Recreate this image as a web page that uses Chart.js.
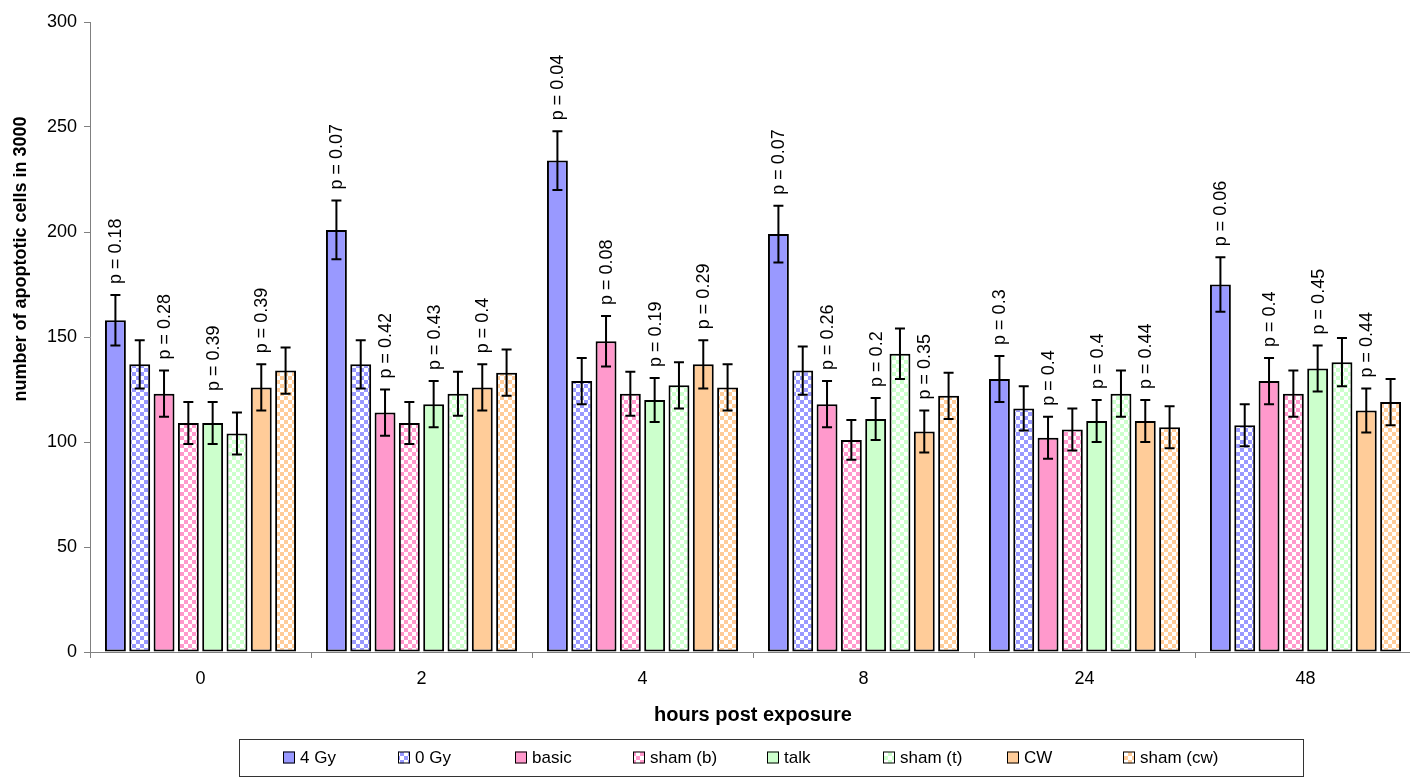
<!DOCTYPE html>
<html>
<head>
<meta charset="utf-8">
<title>Apoptotic cells after exposure</title>
<script src="https://cdn.jsdelivr.net/npm/chart.js@4.4.1/dist/chart.umd.min.js"></script>
<style>
  html, body { margin: 0; padding: 0; overflow: hidden; background: #fff; }
  canvas { display: block; }
</style>
</head>
<body>
<canvas id="chart" width="1420" height="780"></canvas>
<script>
// ---- data ----
const categories = ['0', '2', '4', '8', '24', '48'];

const gy4      = [158, 201, 234, 199, 130, 175];
const gy4Err   = [12, 14, 14, 13.5, 11, 13];
const gy0      = [137, 137, 129, 134, 116, 108];
const gy0Err   = [11.5, 11.5, 11, 11.5, 10.5, 10];
const basic    = [123, 114, 148, 118, 102, 129];
const basicErr = [11, 11, 12, 11, 10, 11];
const shamB    = [109, 109, 123, 101, 106, 123];
const shamBErr = [10, 10, 10.5, 9.5, 10, 11];
const talk     = [109, 118, 120, 111, 110, 135];
const talkErr  = [10, 11, 10.5, 10, 10, 11];
const shamT    = [104, 123, 127, 142, 123, 138];
const shamTErr = [10, 10.5, 11, 12, 11, 11.5];
const cw       = [126, 126, 137, 105, 110, 115];
const cwErr    = [11, 11, 11.5, 10, 10, 10.5];
const shamCW   = [134, 133, 126, 122, 107, 119];
const shamCWErr= [11, 11, 11, 11, 10, 11];

// p-values printed above the exposed groups
const p4Gy   = ['0.18', '0.07', '0.04', '0.07', '0.3', '0.06'];
const pBasic = ['0.28', '0.42', '0.08', '0.26', '0.4', '0.4'];
const pTalk  = ['0.39', '0.43', '0.19', '0.2', '0.4', '0.45'];
const pCW    = ['0.39', '0.4', '0.29', '0.35', '0.44', '0.44'];

const yTicks = { min: 0, max: 300, step: 50 };

// ---- styling ----
const FONT = "'Liberation Sans', Arial, Helvetica, sans-serif";
Chart.defaults.font.family = FONT;
Chart.defaults.color = '#000';

const canvas = document.getElementById('chart');
const ctx = canvas.getContext('2d');

// small checkerboard fill used for the sham / control series
function checker(color) {
  const tile = document.createElement('canvas');
  tile.width = 8; tile.height = 8;
  const g = tile.getContext('2d');
  g.fillStyle = '#ffffff';
  g.fillRect(0, 0, 8, 8);
  g.fillStyle = color;
  g.fillRect(0, 0, 4, 4);
  g.fillRect(4, 4, 4, 4);
  return ctx.createPattern(tile, 'repeat');
}

const BLUE = '#9999FF', PINK = '#FF99CC', GREEN = '#CCFFCC', ORANGE = '#FFCC99';

const series = [
  { label: '4 Gy',      data: gy4,    err: gy4Err,    fill: BLUE,             p: p4Gy },
  { label: '0 Gy',      data: gy0,    err: gy0Err,    fill: checker(BLUE) },
  { label: 'basic',     data: basic,  err: basicErr,  fill: PINK,             p: pBasic },
  { label: 'sham (b)',  data: shamB,  err: shamBErr,  fill: checker(PINK) },
  { label: 'talk',      data: talk,   err: talkErr,   fill: GREEN,            p: pTalk },
  { label: 'sham (t)',  data: shamT,  err: shamTErr,  fill: checker(GREEN) },
  { label: 'CW',        data: cw,     err: cwErr,     fill: ORANGE,           p: pCW },
  { label: 'sham (cw)', data: shamCW, err: shamCWErr, fill: checker(ORANGE) }
];

const datasets = series.map(s => ({
  label: s.label,
  data: s.data,
  errors: s.err,
  pValues: s.p || null,
  backgroundColor: s.fill,
  borderColor: '#000',
  borderWidth: 2,
  borderSkipped: false,
  categoryPercentage: 0.88,
  barPercentage: 0.86
}));

// ---- plugins ----
// vertical error bars with caps, drawn over the bars
const errorBars = {
  id: 'errorBars',
  afterDatasetsDraw(chart) {
    const c = chart.ctx, y = chart.scales.y;
    c.save();
    c.strokeStyle = '#000';
    c.lineWidth = 2;
    chart.data.datasets.forEach((ds, i) => {
      chart.getDatasetMeta(i).data.forEach((bar, j) => {
        const v = ds.data[j], e = ds.errors[j];
        const top = y.getPixelForValue(v + e);
        const bot = y.getPixelForValue(v - e);
        const x = bar.x, cap = 5;
        c.beginPath();
        c.moveTo(x, top); c.lineTo(x, bot);
        c.moveTo(x - cap, top); c.lineTo(x + cap, top);
        c.moveTo(x - cap, bot); c.lineTo(x + cap, bot);
        c.stroke();
      });
    });
    c.restore();
  }
};

// rotated "p = ..." labels above the exposed bars
const pLabels = {
  id: 'pLabels',
  afterDatasetsDraw(chart) {
    const c = chart.ctx, y = chart.scales.y;
    c.save();
    c.fillStyle = '#000';
    c.font = '18px ' + FONT;
    c.textAlign = 'left';
    c.textBaseline = 'middle';
    chart.data.datasets.forEach((ds, i) => {
      if (!ds.pValues) return;
      chart.getDatasetMeta(i).data.forEach((bar, j) => {
        const top = y.getPixelForValue(ds.data[j] + ds.errors[j]);
        c.save();
        c.translate(bar.x + 1, top - 11);
        c.rotate(-Math.PI / 2);
        c.fillText('p = ' + ds.pValues[j], 0, 0);
        c.restore();
      });
    });
    c.restore();
  }
};

// y axis title
const yTitle = {
  id: 'yTitle',
  afterDraw(chart) {
    const c = chart.ctx;
    c.save();
    c.translate(21, 259);
    c.rotate(-Math.PI / 2);
    c.font = 'bold 18px ' + FONT;
    c.fillStyle = '#000';
    c.textAlign = 'center';
    c.textBaseline = 'middle';
    c.fillText('number of apoptotic cells in 3000', 0, 0);
    c.restore();
  }
};

// boxed single-row legend
const legendSlots = [283, 398, 515, 633, 767, 883, 1007, 1123];
const boxLegend = {
  id: 'boxLegend',
  afterDraw(chart) {
    const c = chart.ctx;
    const box = { left: 239, top: 739, right: 1303, bottom: 776 };
    const cy = (box.top + box.bottom) / 2;
    c.save();
    c.strokeStyle = '#333';
    c.lineWidth = 1;
    c.strokeRect(box.left + 0.5, box.top + 0.5, box.right - box.left, box.bottom - box.top);
    c.font = '17px ' + FONT;
    c.textBaseline = 'middle';
    c.textAlign = 'left';
    chart.data.datasets.forEach((ds, i) => {
      const x = legendSlots[i];
      c.fillStyle = ds.backgroundColor;
      c.fillRect(x, cy - 6, 12, 12);
      c.strokeStyle = '#000';
      c.strokeRect(x + 0.5, cy - 5.5, 11, 11);
      c.fillStyle = '#000';
      c.fillText(ds.label, x + 17, cy + 1);
    });
    c.restore();
  }
};

new Chart(ctx, {
  type: 'bar',
  data: { labels: categories, datasets },
  plugins: [errorBars, pLabels, yTitle, boxLegend],
  options: {
    responsive: false,
    animation: false,
    devicePixelRatio: 1,
    layout: { padding: { left: 0, right: 4, top: 22, bottom: 0 } },
    plugins: { legend: { display: false }, tooltip: { enabled: false } },
    scales: {
      x: {
        offset: true,
        grid: { offset: true, drawOnChartArea: false, drawTicks: true, tickLength: 6, color: '#808080' },
        border: { color: '#808080', width: 1 },
        ticks: { font: { size: 18 }, padding: 10, color: '#000' },
        title: {
          display: true,
          text: 'hours post exposure',
          font: { size: 20, weight: 'bold' },
          padding: { top: 0, bottom: 53 }
        },
        afterFit(scale) { scale.height = 128; }
      },
      y: {
        min: yTicks.min,
        max: yTicks.max,
        ticks: { stepSize: yTicks.step, font: { size: 18 }, padding: 7, color: '#000' },
        grid: { drawOnChartArea: false, drawTicks: true, tickLength: 6, color: '#808080' },
        border: { color: '#808080', width: 1 },
        afterFit(scale) { scale.width = 90; }
      }
    }
  }
});
</script>
</body>
</html>
